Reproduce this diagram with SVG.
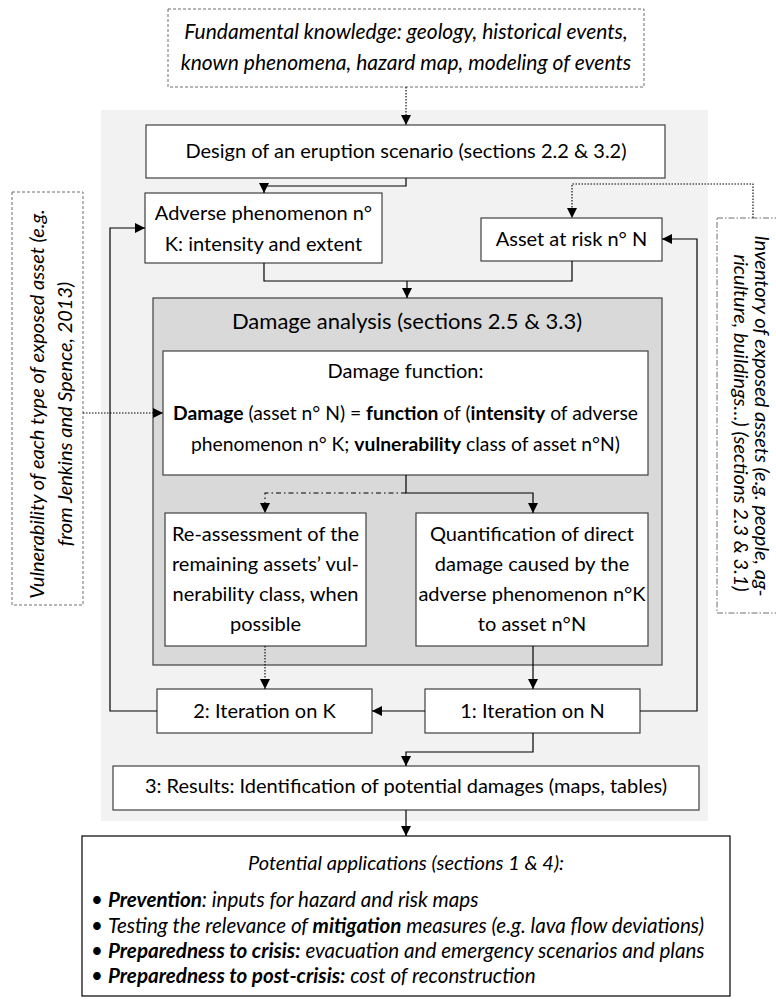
<svg xmlns="http://www.w3.org/2000/svg" width="776" height="1000" viewBox="0 0 776 1000">
<style>
text{font-family:Lato,"Open Sans","Liberation Sans",sans-serif;font-size:20px;fill:#000}
.c{text-anchor:middle}
.it{font-style:italic}
.b{font-weight:bold}
.df{font-size:19.3px}
.ap{font-size:20.6px}
.box{fill:#fff;stroke:#404040;stroke-width:1.2}
.dash{fill:#fff;stroke:#6f6f6f;stroke-width:1;stroke-dasharray:3 2}
.dashdot{fill:#fff;stroke:#6f6f6f;stroke-width:1;stroke-dasharray:6 2 1.5 2}
.ln{fill:none;stroke:#000;stroke-width:1.2}
.dot{fill:none;stroke:#000;stroke-width:1.1;stroke-dasharray:1.5 1.5}
.dd{fill:none;stroke:#000;stroke-width:1.1;stroke-dasharray:5 3 1.5 3}
</style>
<defs>
<marker id="ah" viewBox="0 0 10 10" refX="10" refY="5" markerWidth="10" markerHeight="10" markerUnits="userSpaceOnUse" orient="auto">
<path d="M0,0 L10,5 L0,10 z" fill="#000"/>
</marker>
</defs>

<rect id="panel" x="101" y="110" width="607" height="711" fill="#f2f2f2"/>

<g id="n-fundamental">
<rect class="dash" x="168" y="9" width="476" height="78"/>
<text class="c it" x="406" y="39" style="font-size:21px">Fundamental knowledge: geology, historical events,</text>
<text class="c it" x="406" y="70" style="font-size:21px">known phenomena, hazard map, modeling of events</text>
</g>

<g id="n-design">
<rect class="box" x="146" y="125" width="519" height="53"/>
<text class="c" x="406" y="158">Design of an eruption scenario (sections 2.2 &amp; 3.2)</text>
</g>

<g id="n-adverse">
<rect class="box" x="145" y="193" width="237" height="70"/>
<text class="c" x="263.5" y="220">Adverse phenomenon n°</text>
<text class="c" x="263.5" y="251">K: intensity and extent</text>
</g>

<g id="n-asset">
<rect class="box" x="481" y="218" width="181" height="43"/>
<text class="c" x="571.5" y="246">Asset at risk n° N</text>
</g>

<g id="n-vuln">
<rect class="dash" x="12" y="192" width="71" height="413"/>
<text class="c it" transform="translate(44,404) rotate(-90)">Vulnerability of each type of exposed asset (e.g.</text>
<text class="c it" transform="translate(72,414) rotate(-90)">from Jenkins and Spence, 2013)</text>
</g>

<g id="n-inventory">
<rect class="dashdot" x="717" y="218" width="70" height="395"/>
<text class="c it" transform="translate(755,416) rotate(90)">Inventory of exposed assets (e.g. people, ag-</text>
<text class="c it" transform="translate(734,423) rotate(90)">riculture, buildings…) (sections 2.3 &amp; 3.1)</text>
</g>

<g id="n-damage-analysis">
<rect x="153" y="298" width="509" height="367" fill="#d9d9d9" stroke="#404040" stroke-width="1.2"/>
<text class="c" x="407" y="329" style="font-size:22px">Damage analysis (sections 2.5 &amp; 3.3)</text>
</g>

<g id="n-damage-function">
<rect class="box" x="163" y="351" width="485" height="124"/>
<text class="c" x="405.5" y="378">Damage function:</text>
<text class="c df" x="405.5" y="420"><tspan class="b">Damage</tspan> (asset n° N) = <tspan class="b">function</tspan> of (<tspan class="b">intensity</tspan> of adverse</text>
<text class="c df" x="405.5" y="451">phenomenon n° K; <tspan class="b">vulnerability</tspan> class of asset n°N)</text>
</g>

<g id="n-reassess">
<rect class="box" x="165" y="513" width="201" height="133"/>
<text class="c" x="265.5" y="541">Re-assessment of the</text>
<text class="c" x="265.5" y="571">remaining assets’ vul-</text>
<text class="c" x="265.5" y="601">nerability class, when</text>
<text class="c" x="265.5" y="631">possible</text>
</g>

<g id="n-quant">
<rect class="box" x="416" y="513" width="232" height="133"/>
<text class="c" x="532" y="541">Quantification of direct</text>
<text class="c" x="532" y="571">damage caused by the</text>
<text class="c" x="532" y="601">adverse phenomenon n°K</text>
<text class="c" x="532" y="631">to asset n°N</text>
</g>

<g id="n-iterK">
<rect class="box" x="157" y="689" width="215" height="44"/>
<text class="c" x="264.5" y="718">2: Iteration on K</text>
</g>

<g id="n-iterN">
<rect class="box" x="425" y="689" width="215" height="44"/>
<text class="c" x="532.5" y="718">1: Iteration on N</text>
</g>

<g id="n-results">
<rect class="box" x="113" y="766" width="586" height="44"/>
<text class="c" x="406" y="793">3: Results: Identification of potential damages (maps, tables)</text>
</g>

<g id="n-applications">
<rect x="82" y="836" width="648" height="160" fill="#fff" stroke="#000" stroke-width="1.2"/>
<text class="c it" x="406" y="870">Potential applications (sections 1 &amp; 4):</text>
<text class="it ap" x="91" y="907">•</text><text class="it ap" x="108" y="907"><tspan class="b">Prevention</tspan>: inputs for hazard and risk maps</text>
<text class="it ap" x="91" y="933">•</text><text class="it ap" x="108" y="933">Testing the relevance of <tspan class="b">mitigation</tspan> measures (e.g. lava flow deviations)</text>
<text class="it ap" x="91" y="958">•</text><text class="it ap" x="108" y="958"><tspan class="b">Preparedness to crisis:</tspan> evacuation and emergency scenarios and plans</text>
<text class="it ap" x="91" y="983">•</text><text class="it ap" x="108" y="983"><tspan class="b">Preparedness to post-crisis:</tspan> cost of reconstruction</text>
</g>

<g id="connectors">
<path class="dot" d="M406,87 V125" marker-end="url(#ah)"/>
<path class="ln" d="M406,178 V186 H264 V193" marker-end="url(#ah)"/>
<path class="dot" d="M753,218 V184 H572 V218" marker-end="url(#ah)"/>
<path class="ln" d="M264,263 V281 H572 V261"/>
<path class="ln" d="M407,281 V298" marker-end="url(#ah)"/>
<path class="dot" d="M83,413 H163" marker-end="url(#ah)"/>
<path class="ln" d="M406,475 V493 H533 V513" marker-end="url(#ah)"/>
<path class="dd" d="M406,493 H265 V513" marker-end="url(#ah)"/>
<path class="ln" d="M533,646 V689" marker-end="url(#ah)"/>
<path class="dot" d="M265,646 V689" marker-end="url(#ah)"/>
<path class="ln" d="M425,711 H372" marker-end="url(#ah)"/>
<path class="ln" d="M157,711 H110 V228 H145" marker-end="url(#ah)"/>
<path class="ln" d="M640,711 H697 V239 H662" marker-end="url(#ah)"/>
<path class="ln" d="M533,733 V752 H406 V766" marker-end="url(#ah)"/>
<path class="ln" d="M406,810 V836" marker-end="url(#ah)"/>
</g>
</svg>
